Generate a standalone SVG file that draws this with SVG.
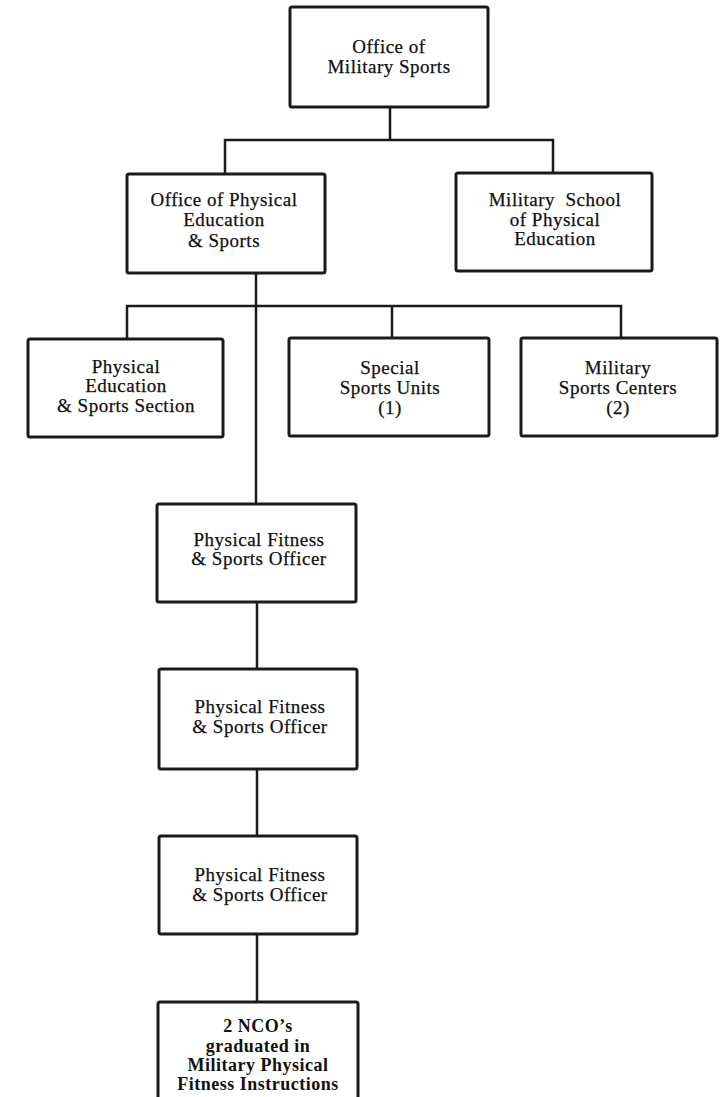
<svg xmlns="http://www.w3.org/2000/svg" width="726" height="1097" viewBox="0 0 726 1097">
<style>
.box{fill:#fff;stroke:#1a1a1a;stroke-width:3;}
.c{fill:none;stroke:#1a1a1a;stroke-width:2.5;stroke-linecap:square;}
text{font-family:"Liberation Serif","Times New Roman",serif;font-size:19px;fill:#111;stroke:#111;stroke-width:0.25;text-anchor:middle;letter-spacing:0.5px;}
.b{font-size:18px;font-weight:bold;stroke-width:0;letter-spacing:0.5px;}
</style>
<rect x="0" y="0" width="726" height="1097" fill="#fff"/>
<g id="connectors">
<path class="c" d="M390,107 V140 M225,140 H553 M225,140 V174 M553,140 V173"/>
<path class="c" d="M256,273 V504 M127,306 H621 M127,306 V339 M392,306 V338 M621,306 V338"/>
<path class="c" d="M257,602 V669 M257,769 V836 M257,934 V1002"/>
</g>
<g id="n1">
<rect class="box" x="290" y="7" width="198" height="100" rx="2"/>
<text x="389" y="53">Office of</text>
<text x="389" y="73">Military Sports</text>
</g>
<g id="n2">
<rect class="box" x="127" y="174" width="198" height="99" rx="2"/>
<text x="224" y="206">Office of Physical</text>
<text x="224" y="226">Education</text>
<text x="224" y="247">&amp; Sports</text>
</g>
<g id="n3">
<rect class="box" x="456" y="173" width="196" height="98" rx="2"/>
<text x="555" y="206" xml:space="preserve">Military  School</text>
<text x="555" y="226">of Physical</text>
<text x="555" y="245">Education</text>
</g>
<g id="n4">
<rect class="box" x="28" y="339" width="195" height="98" rx="2"/>
<text x="126" y="373">Physical</text>
<text x="126" y="392">Education</text>
<text x="126" y="412">&amp; Sports Section</text>
</g>
<g id="n5">
<rect class="box" x="289" y="338" width="200" height="98" rx="2"/>
<text x="390" y="374">Special</text>
<text x="390" y="394">Sports Units</text>
<text x="390" y="414">(1)</text>
</g>
<g id="n6">
<rect class="box" x="521" y="338" width="196" height="98" rx="2"/>
<text x="618" y="374">Military</text>
<text x="618" y="394">Sports Centers</text>
<text x="618" y="414">(2)</text>
</g>
<g id="n7">
<rect class="box" x="157" y="504" width="199" height="98" rx="2"/>
<text x="259" y="546">Physical Fitness</text>
<text x="259" y="565">&amp; Sports Officer</text>
</g>
<g id="n8">
<rect class="box" x="159" y="669" width="198" height="100" rx="2"/>
<text x="260" y="713">Physical Fitness</text>
<text x="260" y="733">&amp; Sports Officer</text>
</g>
<g id="n9">
<rect class="box" x="159" y="836" width="198" height="98" rx="2"/>
<text x="260" y="881">Physical Fitness</text>
<text x="260" y="901">&amp; Sports Officer</text>
</g>
<g id="n10">
<rect class="box" x="158" y="1002" width="200" height="110" rx="2"/>
<text class="b" x="258" y="1032">2 NCO’s</text>
<text class="b" x="258" y="1052">graduated in</text>
<text class="b" x="258" y="1071">Military Physical</text>
<text class="b" x="258" y="1090">Fitness Instructions</text>
</g>
</svg>
